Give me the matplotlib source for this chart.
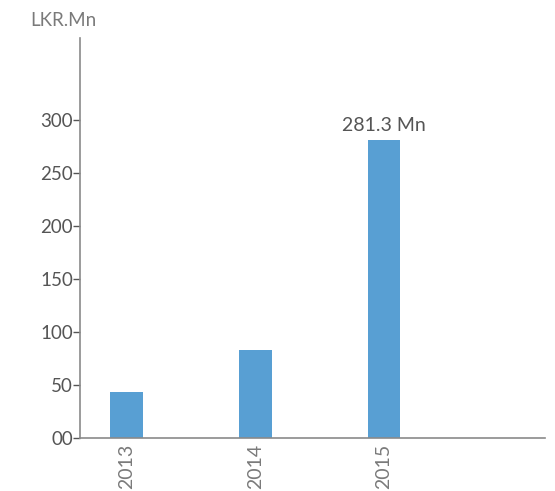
import matplotlib.pyplot as plt

years = ["2013", "2014", "2015"]
values = [43.5, 83.3, 281.3]
label_text = "281.3 Mn"

plt.rcParams['font.family'] = ['Lato', 'DejaVu Sans']

fig = plt.figure(figsize=(5.55, 4.91), dpi=100)
ax = fig.add_axes([0.144, 0.108, 0.838, 0.815])

x = list(range(len(years)))
bars = ax.bar(x, values, width=0.255, color="#589fd3")

ax.text(x[2], values[2] + 6, label_text, ha="center", va="bottom",
        fontsize=14, color="#555555")

ax.set_xlim(-0.362, 3.25)
ax.set_ylim(0, 378)
ax.set_yticks([0, 50, 100, 150, 200, 250, 300])
ax.set_yticklabels(["00", "50", "100", "150", "200", "250", "300"])
ax.set_xticks(x)
ax.set_xticklabels(years, rotation=90, fontsize=14, color="#7a7a7a")

for s in ["top", "right"]:
    ax.spines[s].set_visible(False)
for s in ["left", "bottom"]:
    ax.spines[s].set_color("#8a8a8a")
    ax.spines[s].set_linewidth(1.2)

ax.tick_params(axis="y", length=5, width=1, color="#555555", pad=0,
               labelsize=13.5, labelcolor="#555555")
ax.tick_params(axis="x", length=0, pad=4)

fig.text(0.055, 0.958, "LKR.Mn", fontsize=13.5, color="#7a7a7a",
         ha="left", va="center")

fig.savefig("out.png", dpi=100)
